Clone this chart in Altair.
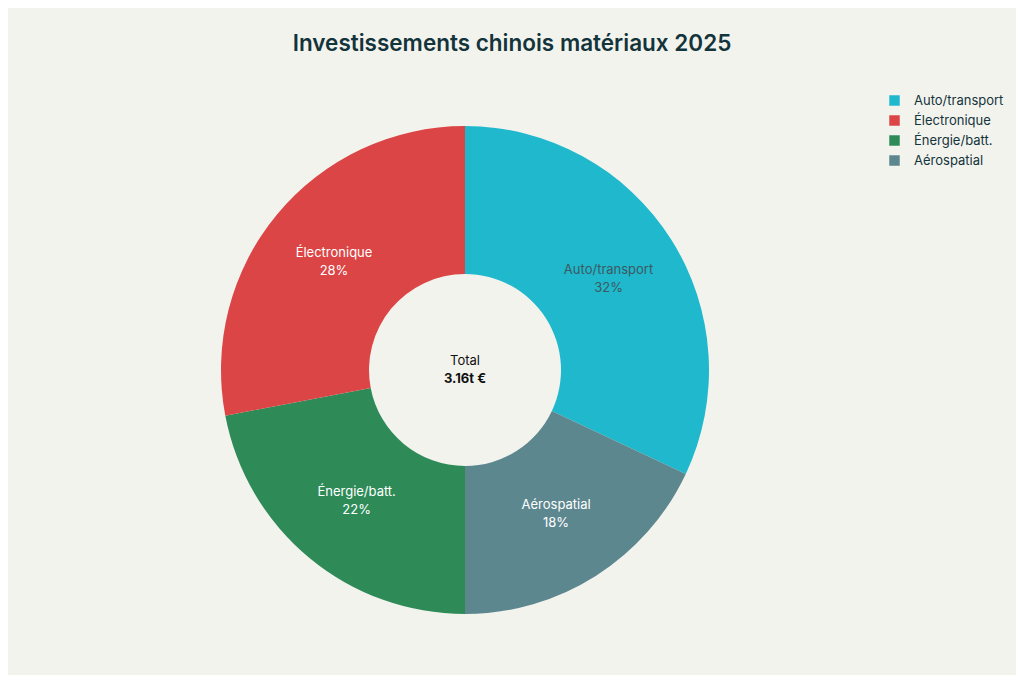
import altair as alt
import pandas as pd

categories = ["Auto/transport", "Aérospatial", "Énergie/batt.", "Électronique"]
values = [32, 18, 22, 28]
slice_order = [0, 1, 2, 3]
legend_order = ["Auto/transport", "Électronique", "Énergie/batt.", "Aérospatial"]
palette = ["#1FB8CD", "#DB4545", "#2E8B57", "#5D878F"]
center_lines = ["Total", "3.16t €"]

df = pd.DataFrame({
    "cat": categories,
    "val": values,
    "ord": slice_order,
    "pct": [f"{v}%" for v in values],
})

FONT = "Inter"
DARK = "#13343B"
CX, CY = 457, 292

base = alt.Chart(df).encode(
    theta=alt.Theta("val:Q", stack=True),
    order=alt.Order("ord:Q"),
)

arcs = base.mark_arc(innerRadius=96, outerRadius=244, x=CX, y=CY).encode(
    color=alt.Color(
        "cat:N",
        scale=alt.Scale(domain=legend_order, range=palette),
        sort=legend_order,
        legend=alt.Legend(
            title=None,
            orient="none",
            legendX=880,
            legendY=16,
            symbolType="square",
            symbolSize=110,
            symbolStrokeWidth=0,
            labelFont=FONT,
            labelFontSize=13,
            labelColor=DARK,
            rowPadding=6,
            labelOffset=13,
        ),
    )
)

label_color = alt.condition(
    alt.datum.cat == "Auto/transport", alt.value("#3D5A60"), alt.value("white")
)

names = base.mark_text(radius=170, dy=-9, font=FONT, fontSize=13, x=CX, y=CY).encode(
    text="cat:N", color=label_color
)
pcts = base.mark_text(radius=170, dy=9, font=FONT, fontSize=13, x=CX, y=CY).encode(
    text="pct:N", color=label_color
)

cdf = pd.DataFrame({"t": center_lines})
c1 = alt.Chart(cdf.iloc[[0]]).mark_text(
    font=FONT, fontSize=13, color="#111111", dy=-9
).encode(text="t:N", x=alt.value(CX), y=alt.value(CY))
c2 = alt.Chart(cdf.iloc[[1]]).mark_text(
    font=FONT, fontSize=13, fontWeight="bold", color="#111111", dy=9
).encode(text="t:N", x=alt.value(CX), y=alt.value(CY))

chart = (
    alt.layer(arcs, names, pcts, c1, c2)
    .properties(
        width=1008,
        height=597,
        autosize=alt.AutoSizeParams(type="none"),
        padding={"left": 0, "right": 0, "top": 70, "bottom": 0},
        title=alt.TitleParams(
            "Investissements chinois matériaux 2025",
            font=FONT,
            fontSize=22.5,
            fontWeight=600,
            color=DARK,
            anchor="middle",
            offset=23,
        ),
        background="#F3F3EE",
    )
    .configure_view(stroke=None)
)

chart.save("out.html", embed_options={"renderer": "svg", "actions": False})
